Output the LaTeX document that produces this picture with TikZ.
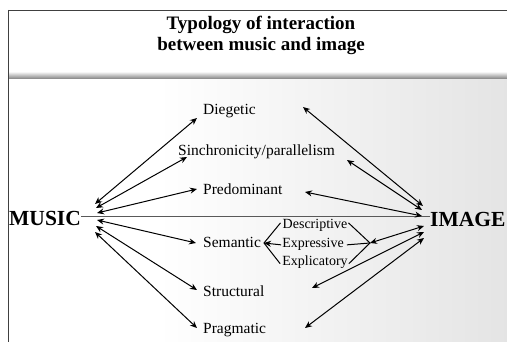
\documentclass[tikz,border=0pt]{standalone}
\usepackage{fontspec}
\setmainfont{Liberation Serif}
\usetikzlibrary{arrows.meta}
\pgfdeclarehorizontalshading{bgshade}{100bp}{color(0bp)=(white); color(40bp)=(white); color(100bp)=(black!18)}
\begin{document}
\begin{tikzpicture}[x=1pt,y=-1pt,
  lbl/.style={font=\fontsize{15.5}{17}\selectfont, anchor=base west, inner sep=0pt},
  sublbl/.style={font=\fontsize{14}{15}\selectfont, anchor=base, inner sep=0pt},
  bigword/.style={font=\bfseries\fontsize{21.5}{23}\selectfont, anchor=base west, inner sep=0pt},
  titletext/.style={font=\bfseries\fontsize{19}{21}\selectfont, align=center, inner sep=0pt},
  tipA/.tip={Stealth[length=7pt,width=6pt]},
  dbl/.style={{tipA}-{tipA}, line width=1pt},
  one/.style={-{tipA}, line width=1pt},
  plain/.style={line width=1pt},
  frame/.style={line width=0.8pt, black!75},
  hline/.style={line width=1.5pt, black!65}
]
\useasboundingbox (0,0) rectangle (507,342);
% background
\shade[shading=bgshade] (8,79) rectangle (507,342);
\shade[top color=black!10, bottom color=black!50] (8,73) rectangle (507,79);
\draw[frame] (8,10) -- (507,10);
\draw[frame] (8,10) -- (8,342);

% title
\node[titletext] (title) at (261,35) {Typology of interaction\\between music and image};

% main words
\node[bigword] (music) at (9,226) {MUSIC};
\node[bigword] (image) at (430,227) {IMAGE};
\coordinate (hl) at (0,216.5);
\draw[hline] (music.east |- hl) -- (image.west |- hl);

% labels
\node[lbl] (dieg) at (203,115) {Diegetic};
\node[lbl] (sinc) at (178,156) {Sinchronicity/parallelism};
\node[lbl] (pred) at (203,195) {Predominant};
\node[lbl] (sema) at (203,248) {Semantic};
\node[lbl] (stru) at (203,297) {Structural};
\node[lbl] (prag) at (203,334) {Pragmatic};

\node[sublbl] (desc) at (315,229) {Descriptive};
\node[sublbl] (expr) at (313,248) {Expressive};
\node[sublbl] (expl) at (315,266) {Explicatory};

% fan points
\coordinate (mA) at (95,204);
\coordinate (mB) at (96,208);
\coordinate (mC) at (97,213);
\coordinate (mD) at (97,220);
\coordinate (mE) at (96,226);
\coordinate (mF) at (95,232);
\coordinate (lA) at (197,118);
\coordinate (lB) at (187,157);
\coordinate (lC) at (197,189);
\coordinate (lD) at (196,243);
\coordinate (lE) at (197,290);
\coordinate (lF) at (197,328);
\coordinate (rA) at (303,107);
\coordinate (rB) at (347,160);
\coordinate (rC) at (305,192);
\coordinate (rD) at (370,243);
\coordinate (rE) at (312,288);
\coordinate (rF) at (305,328);
\coordinate (iA) at (423,206);
\coordinate (iB) at (422,210);
\coordinate (iC) at (422,216);
\coordinate (iD) at (424,226);
\coordinate (iE) at (424,232);
\coordinate (iF) at (424,238);
\coordinate (stip) at (264,243);

% music arrows
\draw[dbl] (mA) -- (lA);
\draw[dbl] (mB) -- (lB);
\draw[dbl] (mC) -- (lC);
\draw[dbl] (mD) -- (lD);
\draw[dbl] (mE) -- (lE);
\draw[dbl] (mF) -- (lF);
% image arrows
\draw[dbl] (iA) -- (rA);
\draw[dbl] (iB) -- (rB);
\draw[dbl] (iC) -- (rC);
\draw[dbl] (iD) -- (rD);
\draw[dbl] (iE) -- (rE);
\draw[dbl] (iF) -- (rF);

% semantic sub-branches
\draw[plain] ([xshift=-2pt,yshift=3pt]desc.west) -- (stip) -- ([xshift=-2pt,yshift=-1pt]expl.west);
\draw[one] ([xshift=-1pt]expr.west) -- (stip);
\draw[plain] ([xshift=1pt,yshift=3pt]desc.east) -- (rD) -- ([xshift=1pt,yshift=-1pt]expl.east);
\draw[plain] ([xshift=3pt]expr.east) -- (rD);
\end{tikzpicture}
\end{document}
